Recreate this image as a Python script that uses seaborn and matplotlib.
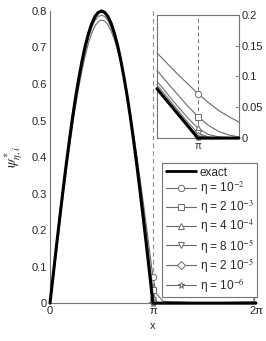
import numpy as np
import matplotlib
matplotlib.use("Agg")
import matplotlib.pyplot as plt
from matplotlib.lines import Line2D
import seaborn as sns

sns.set_style("white")
plt.rcParams['font.family'] = ['Liberation Sans', 'DejaVu Sans']
plt.rcParams['mathtext.fontset'] = 'stix'

# ---------------- data ----------------
# main-plot abscissae, in units of pi (k/32 on [0, pi], then a tail)
x_main_pi = [k / 32 for k in range(33)] + [1.032, 1.1, 1.5, 1.98, 2.0]

exact_main = [0, .078, .156, .232, .306, .377, .444, .508, .566, .618, .665, .706,
              .739, .766, .785, .796, .800, .796, .785, .766, .739, .706, .665,
              .618, .566, .508, .444, .377, .306, .232, .156, .078, 0,
              0, 0, 0, 0, 0]
eta_1e2_main = [0, .066, .140, .214, .288, .358, .424, .487, .543, .594, .640, .680,
                .713, .740, .759, .771, .775, .772, .762, .745, .722, .693, .658,
                .617, .570, .518, .462, .402, .340, .275, .208, .139, .072,
                .026, .005, 0, .004, .11]
eta_2e3_main = [0, .074, .150, .226, .299, .369, .436, .499, .556, .608, .654, .695,
                .728, .755, .774, .785, .788, .785, .774, .756, .731, .700, .662,
                .619, .570, .516, .458, .395, .329, .260, .187, .110, .035,
                .002, 0, 0, .001, .03]
eta_4e4_main = [0, .077, .154, .230, .304, .375, .442, .505, .563, .615, .662, .703,
                .736, .763, .782, .793, .797, .793, .782, .763, .737, .704, .663,
                .617, .565, .508, .445, .379, .309, .237, .163, .092, .016,
                0, 0, 0, 0, .005]
eta_8e5_main = [0, .078, .156, .232, .306, .377, .444, .508, .566, .618, .665, .706,
                .739, .766, .785, .795, .799, .795, .785, .766, .739, .706, .665,
                .618, .566, .508, .444, .377, .307, .234, .159, .086, .008,
                0, 0, 0, 0, 0]
eta_2e5_main = [0, .078, .156, .232, .306, .377, .444, .508, .566, .618, .665, .706,
                .739, .766, .785, .796, .800, .796, .785, .766, .739, .706, .665,
                .618, .566, .508, .444, .377, .306, .233, .157, .081, .004,
                0, 0, 0, 0, 0]
eta_1e6_main = [0, .078, .156, .232, .306, .377, .444, .508, .566, .618, .665, .706,
                .739, .766, .785, .796, .800, .796, .785, .766, .739, .706, .665,
                .618, .566, .508, .444, .377, .306, .232, .156, .079, .001,
                0, 0, 0, 0, 0]

# inset abscissae: offsets from pi
x_inset_off = [-0.1, -0.075, -0.05, -0.025, 0, 0.025, 0.05, 0.075, 0.1]
exact_inset = [0.080, 0.060, 0.040, 0.020, 0, 0, 0, 0, 0]
eta_1e2_inset = [0.138, 0.121, 0.104, 0.088, 0.072, 0.058, 0.045, 0.035, 0.026]
eta_2e3_inset = [0.110, 0.090, 0.071, 0.052, 0.035, 0.021, 0.011, 0.005, 0.002]
eta_4e4_inset = [0.092, 0.072, 0.052, 0.033, 0.016, 0.006, 0.002, 0.001, 0.000]
eta_8e5_inset = [0.086, 0.066, 0.046, 0.026, 0.008, 0.002, 0.000, 0.000, 0.000]
eta_2e5_inset = [0.081, 0.061, 0.041, 0.021, 0.004, 0.001, 0.000, 0.000, 0.000]
eta_1e6_inset = [0.079, 0.059, 0.039, 0.019, 0.001, 0.000, 0.000, 0.000, 0.000]

labels = ['exact', r'η = 10$^{-2}$', r'η = 2 10$^{-3}$', r'η = 4 10$^{-4}$',
          r'η = 8 10$^{-5}$', r'η = 2 10$^{-5}$', r'η = 10$^{-6}$']
markers = [None, 'o', 's', '^', 'v', 'D', '*']
msizes = [0, 4.5, 4, 4.5, 4.5, 4, 5]

main_series = [exact_main, eta_1e2_main, eta_2e3_main, eta_4e4_main,
               eta_8e5_main, eta_2e5_main, eta_1e6_main]
inset_series = [exact_inset, eta_1e2_inset, eta_2e3_inset, eta_4e4_inset,
                eta_8e5_inset, eta_2e5_inset, eta_1e6_inset]

xm = np.array(x_main_pi) * np.pi
xi = np.pi + np.array(x_inset_off)
idx_pi_main = x_main_pi.index(1.0)
idx_pi_inset = x_inset_off.index(0)

GRAY = '0.42'
SPINE = '0.45'

fig = plt.figure(figsize=(2.66, 3.41), dpi=100)
ax = fig.add_axes([0.188, 0.111, 0.774, 0.857])

def draw(axis, x, series, idx):
    for k, (y, m, ms) in enumerate(zip(series, markers, msizes)):
        if k == 0:
            sns.lineplot(x=x, y=y, ax=axis, color='black', lw=2.2, zorder=4,
                         clip_on=False, legend=False)
        else:
            sns.lineplot(x=x, y=y, ax=axis, color=GRAY, lw=0.8, zorder=3,
                         marker=m, markevery=[idx], ms=ms, mfc='white',
                         mec=GRAY, mew=0.7, clip_on=False, legend=False)

ax.axvline(np.pi, color='0.55', ls=(0, (4, 3)), lw=0.8, zorder=1)
draw(ax, xm, main_series, idx_pi_main)
ax.set_xlim(0, 2 * np.pi)
ax.set_ylim(0, 0.8)
ax.set_xticks([0, np.pi, 2 * np.pi])
ax.set_xticklabels(['0', 'π', '2π'])
ax.set_yticks(np.arange(0, 0.81, 0.1))
ax.set_yticklabels(['0', '0.1', '0.2', '0.3', '0.4', '0.5', '0.6', '0.7', '0.8'])
ax.tick_params(direction='in', length=3, width=0.6, color=SPINE, labelsize=8,
               pad=2)
for s in ['top', 'right']:
    ax.spines[s].set_visible(False)
for s in ['left', 'bottom']:
    ax.spines[s].set_color(SPINE)
    ax.spines[s].set_linewidth(0.8)
ax.set_xlabel('x', fontsize=8, labelpad=4)
ax.set_ylabel(r'$\psi^*_{\eta,i}$', fontsize=10.5, labelpad=5)

# legend
handles = []
for k, (m, ms) in enumerate(zip(markers, msizes)):
    if k == 0:
        handles.append(Line2D([], [], color='black', lw=2.0))
    else:
        handles.append(Line2D([], [], color=GRAY, lw=0.8, marker=m, ms=ms,
                              mfc='white', mec=GRAY, mew=0.7))
leg = ax.legend(handles, labels, loc='upper left',
                bbox_to_anchor=(0.609, 0.126, 0.357, 0.396),
                bbox_transform=fig.transFigure, mode='expand', borderaxespad=0,
                fontsize=8.5, handlelength=2.6, handletextpad=0.3,
                labelspacing=0.13, borderpad=0.3, fancybox=False,
                framealpha=1, edgecolor=SPINE)
leg.get_frame().set_linewidth(0.8)
leg.set_zorder(10)

# inset
axi = fig.add_axes([0.590, 0.595, 0.308, 0.362])
axi.axvline(np.pi, color='0.45', ls=(0, (4, 3)), lw=0.7, zorder=1)
draw(axi, xi, inset_series, idx_pi_inset)
axi.set_xlim(np.pi - 0.1, np.pi + 0.1)
axi.set_ylim(0, 0.2)
axi.set_xticks([np.pi])
axi.set_xticklabels(['π'])
axi.set_yticks([0, 0.05, 0.1, 0.15, 0.2])
axi.set_yticklabels(['0', '0.05', '0.1', '0.15', '0.2'])
axi.yaxis.tick_right()
axi.tick_params(axis='y', direction='in', length=3, width=0.6, color=SPINE,
                labelsize=8, pad=2)
axi.tick_params(axis='x', direction='in', length=3, width=0.6, color=SPINE,
                labelsize=7, pad=2)
for s in axi.spines.values():
    s.set_color(SPINE)
    s.set_linewidth(0.8)
axi.set_facecolor('white')

fig.savefig('out.png', dpi=100)
